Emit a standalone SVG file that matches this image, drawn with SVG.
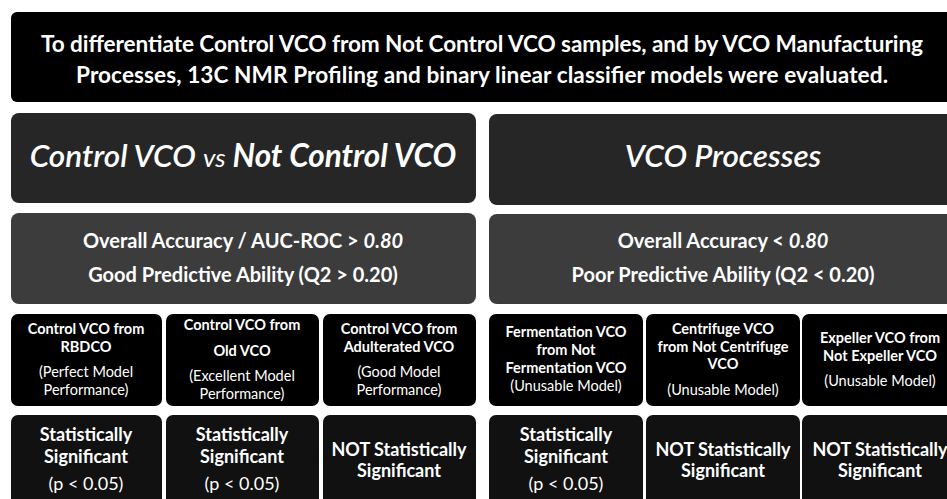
<svg xmlns="http://www.w3.org/2000/svg" width="947" height="499" viewBox="0 0 947 499">
<style>
text{font-family:Lato,"Open Sans","Liberation Sans",sans-serif;fill:#ffffff;text-anchor:middle}
.top{fill:#000000}
.hd{fill:#262626}
.md{fill:#3c3c3c}
.sm{fill:#000000}
.bt{fill:#111111}
.t1{font-size:22.6px;font-weight:bold}
.t2{font-size:31.5px;font-style:italic}
.t3{font-size:20px;font-weight:bold}
.t4{font-size:14.5px;font-weight:bold}
.t4r{font-size:14.5px}
.t5{font-size:18px;font-weight:bold}
.t5r{font-size:18px}
</style>
<rect width="947" height="499" fill="#ffffff"/>
<g id="header">
<rect class="top" x="11" y="12" width="942" height="90" rx="6"/>
<text class="t1" x="482" y="52" textLength="882" lengthAdjust="spacing">To differentiate Control VCO from Not Control VCO samples, and by VCO Manufacturing</text>
<text class="t1" x="482" y="83" textLength="812" lengthAdjust="spacing">Processes, 13C NMR Profiling and binary linear classifier models were evaluated.</text>
</g>
<g id="title-left">
<rect class="hd" x="11" y="113" width="465" height="90" rx="8"/>
<text class="t2" x="243" y="167"><tspan font-weight="600">Control VCO </tspan><tspan font-size="26">vs</tspan><tspan font-weight="bold"> Not Control VCO</tspan></text>
</g>
<g id="title-right">
<rect class="hd" x="489" y="114" width="468" height="91" rx="8"/>
<text class="t2" x="723" y="167" font-weight="600">VCO Processes</text>
</g>
<g id="metrics-left">
<rect class="md" x="11" y="213" width="465" height="91" rx="8"/>
<text class="t3" x="243" y="248">Overall Accuracy / AUC-ROC &gt; <tspan font-style="italic">0.80</tspan></text>
<text class="t3" x="243" y="282">Good Predictive Ability (Q2 &gt; 0.20)</text>
</g>
<g id="metrics-right">
<rect class="md" x="489" y="214" width="468" height="90" rx="8"/>
<text class="t3" x="723" y="248">Overall Accuracy &lt; <tspan font-style="italic">0.80</tspan></text>
<text class="t3" x="723" y="282">Poor Predictive Ability (Q2 &lt; 0.20)</text>
</g>
<g id="model-rbdco">
<rect class="sm" x="11" y="314" width="151" height="92" rx="7"/>
<text class="t4" x="86" y="334">Control VCO from</text>
<text class="t4" x="86" y="352">RBDCO</text>
<text class="t4r" x="86" y="377">(Perfect Model</text>
<text class="t4r" x="86" y="395">Performance)</text>
</g>
<g id="model-old">
<rect class="sm" x="166" y="314" width="153" height="92" rx="7"/>
<text class="t4" x="242" y="330">Control VCO from</text>
<text class="t4" x="242" y="356">Old VCO</text>
<text class="t4r" x="242" y="381">(Excellent Model</text>
<text class="t4r" x="242" y="399">Performance)</text>
</g>
<g id="model-adulterated">
<rect class="sm" x="323" y="314" width="153" height="92" rx="7"/>
<text class="t4" x="399" y="334">Control VCO from</text>
<text class="t4" x="399" y="352">Adulterated VCO</text>
<text class="t4r" x="399" y="377">(Good Model</text>
<text class="t4r" x="399" y="395">Performance)</text>
</g>
<g id="model-fermentation">
<rect class="sm" x="489" y="314" width="154" height="92" rx="7"/>
<text class="t4" x="566" y="337">Fermentation VCO</text>
<text class="t4" x="566" y="355">from Not</text>
<text class="t4" x="566" y="373">Fermentation VCO</text>
<text class="t4r" x="566" y="391">(Unusable Model)</text>
</g>
<g id="model-centrifuge">
<rect class="sm" x="646" y="314" width="154" height="92" rx="7"/>
<text class="t4" x="723" y="334">Centrifuge VCO</text>
<text class="t4" x="723" y="352">from Not Centrifuge</text>
<text class="t4" x="723" y="369">VCO</text>
<text class="t4r" x="723" y="395">(Unusable Model)</text>
</g>
<g id="model-expeller">
<rect class="sm" x="802" y="314" width="155" height="92" rx="7"/>
<text class="t4" x="880" y="343">Expeller VCO from</text>
<text class="t4" x="880" y="361">Not Expeller VCO</text>
<text class="t4r" x="880" y="386">(Unusable Model)</text>
</g>
<g id="sig-rbdco">
<rect class="bt" x="11" y="415" width="151" height="100" rx="7"/>
<text class="t5" x="86" y="441">Statistically</text>
<text class="t5" x="86" y="463">Significant</text>
<text class="t5r" x="86" y="490">(p &lt; 0.05)</text>
</g>
<g id="sig-old">
<rect class="bt" x="166" y="415" width="153" height="100" rx="7"/>
<text class="t5" x="242" y="441">Statistically</text>
<text class="t5" x="242" y="463">Significant</text>
<text class="t5r" x="242" y="490">(p &lt; 0.05)</text>
</g>
<g id="sig-adulterated">
<rect class="bt" x="323" y="415" width="153" height="100" rx="7"/>
<text class="t5" x="399" y="456">NOT Statistically</text>
<text class="t5" x="399" y="477">Significant</text>
</g>
<g id="sig-fermentation">
<rect class="bt" x="489" y="415" width="154" height="100" rx="7"/>
<text class="t5" x="566" y="441">Statistically</text>
<text class="t5" x="566" y="463">Significant</text>
<text class="t5r" x="566" y="490">(p &lt; 0.05)</text>
</g>
<g id="sig-centrifuge">
<rect class="bt" x="646" y="415" width="154" height="100" rx="7"/>
<text class="t5" x="723" y="456">NOT Statistically</text>
<text class="t5" x="723" y="477">Significant</text>
</g>
<g id="sig-expeller">
<rect class="bt" x="802" y="415" width="155" height="100" rx="7"/>
<text class="t5" x="880" y="456">NOT Statistically</text>
<text class="t5" x="880" y="477">Significant</text>
</g>
<g id="connectors"></g>
</svg>
